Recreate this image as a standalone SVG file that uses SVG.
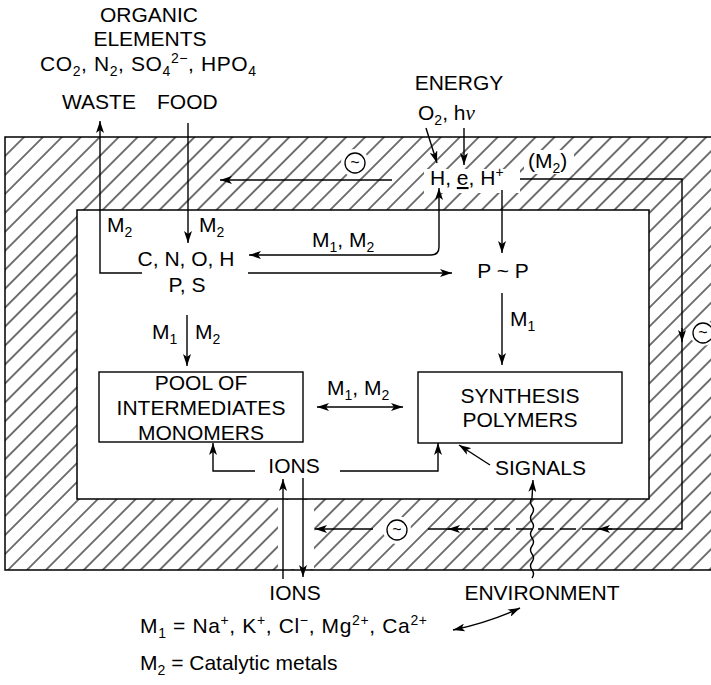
<svg xmlns="http://www.w3.org/2000/svg" width="711" height="685" viewBox="0 0 711 685">
<defs>
<style>
text{font-family:"Liberation Sans",Arial,sans-serif;font-size:21px;fill:#000}
.s{font-size:14px}
.ln{fill:none;stroke:#000;stroke-width:1.4}
.box{fill:#fff;stroke:#000;stroke-width:1.4}
.cir{fill:#fff;stroke:#000;stroke-width:1.3}
.til{font-size:16px;text-anchor:middle}
.mid{text-anchor:middle}
</style>
<pattern id="hatch" patternUnits="userSpaceOnUse" width="13.4" height="13.4" patternTransform="rotate(-45)">
<line x1="-1" y1="6.7" x2="15" y2="6.7" stroke="#000" stroke-width="1.1"/>
</pattern>
<marker id="ah" viewBox="0 0 12 8" refX="12" refY="4" markerWidth="12" markerHeight="8" markerUnits="userSpaceOnUse" orient="auto-start-reverse">
<path d="M0,0 L12,4 L0,8 L3,4 z" fill="#000"/>
</marker>
</defs>
<rect width="711" height="685" fill="#fff"/>

<g id="membrane">
<path d="M5,137 H720 V570 H5 Z M77,210 H649 V499 H77 Z" fill="url(#hatch)" fill-rule="evenodd" stroke="none"/>
<rect x="424" y="169" width="96" height="24" fill="#fff"/>
<rect x="524" y="150" width="50" height="24" fill="#fff"/>
<rect x="278" y="500" width="36" height="69" fill="#fff"/>
<circle cx="355" cy="163" r="14" fill="#fff"/>
<circle cx="397" cy="530" r="14" fill="#fff"/>
<circle cx="703" cy="333" r="13" fill="#fff"/>
<path d="M5,137 H720 V570 H5 Z M77,210 H649 V499 H77 Z" fill="none" stroke="#000" stroke-width="1.5"/>
</g>

<g id="organic">
<text x="149" y="22" class="mid">ORGANIC</text>
<text x="150" y="46" class="mid">ELEMENTS</text>
<text x="40" y="71" textLength="216" lengthAdjust="spacing">CO<tspan class="s" dy="5">2</tspan><tspan dy="-5">, N</tspan><tspan class="s" dy="5">2</tspan><tspan dy="-5">, SO</tspan><tspan class="s" dy="5">4</tspan><tspan class="s" dy="-13">2−</tspan><tspan dy="8">, HPO</tspan><tspan class="s" dy="5">4</tspan></text>
</g>
<g id="waste"><text x="62" y="109">WASTE</text></g>
<g id="food"><text x="157" y="109">FOOD</text></g>
<g id="energy">
<text x="459" y="90" class="mid">ENERGY</text>
<text x="418" y="120">O<tspan class="s" dy="5">2</tspan><tspan dy="-5">, h</tspan><tspan style="font-family:'Liberation Serif',serif;font-style:italic">ν</tspan></text>
</g>
<g id="heh">
<text x="430" y="185">H, <tspan text-decoration="underline">e</tspan>, H<tspan class="s" dy="-8">+</tspan></text>
<text x="528" y="168">(M<tspan class="s" dy="5">2</tspan><tspan dy="-5">)</tspan></text>
</g>
<g id="cnoh">
<text x="186" y="266" class="mid">C, N, O, H</text>
<text x="187" y="292" class="mid">P, S</text>
</g>
<g id="pp"><text x="503" y="278" class="mid">P ~ P</text></g>
<g id="pool">
<rect x="99" y="372" width="204" height="70" class="box"/>
<text x="201" y="390" class="mid">POOL OF</text>
<text x="201" y="415" class="mid">INTERMEDIATES</text>
<text x="201" y="440" class="mid">MONOMERS</text>
</g>
<g id="synthesis">
<rect x="418" y="372" width="204" height="71" class="box"/>
<text x="520" y="403" class="mid">SYNTHESIS</text>
<text x="520" y="427" class="mid">POLYMERS</text>
</g>
<g id="ions-in"><text x="294" y="473" class="mid">IONS</text></g>
<g id="ions-out"><text x="295" y="600" class="mid">IONS</text></g>
<g id="signals"><text x="495" y="475">SIGNALS</text></g>
<g id="environment"><text x="542" y="600" class="mid">ENVIRONMENT</text></g>
<g id="legend">
<text x="140" y="633" textLength="287" lengthAdjust="spacing">M<tspan class="s" dy="5">1</tspan><tspan dy="-5"> = Na</tspan><tspan class="s" dy="-8">+</tspan><tspan dy="8">, K</tspan><tspan class="s" dy="-8">+</tspan><tspan dy="8">, Cl</tspan><tspan class="s" dy="-8">−</tspan><tspan dy="8">, Mg</tspan><tspan class="s" dy="-8">2+</tspan><tspan dy="8">, Ca</tspan><tspan class="s" dy="-8">2+</tspan></text>
<text x="140" y="670">M<tspan class="s" dy="5">2</tspan><tspan dy="-5"> = Catalytic metals</tspan></text>
</g>

<g id="connectors">
<path class="ln" d="M142,273 H100 V121" marker-end="url(#ah)"/>
<path class="ln" d="M188,123 V243" marker-end="url(#ah)"/>
<path class="ln" d="M439,188 V247 Q439,255 431,255 H249" marker-start="url(#ah)" marker-end="url(#ah)"/>
<path class="ln" d="M248,273 H452" marker-end="url(#ah)"/>
<path class="ln" d="M426,128 L437,163" marker-end="url(#ah)"/>
<path class="ln" d="M464,128 V165" marker-end="url(#ah)"/>
<path class="ln" d="M502,190 V253" marker-end="url(#ah)"/>
<path class="ln" d="M502,293 V365" marker-end="url(#ah)"/>
<path class="ln" d="M187,315 V366" marker-end="url(#ah)"/>
<path class="ln" d="M317,407 H403" marker-start="url(#ah)" marker-end="url(#ah)"/>
<path class="ln" d="M255,471 H213 V443" marker-end="url(#ah)"/>
<path class="ln" d="M340,471 H438 V443" marker-end="url(#ah)"/>
<path class="ln" d="M283,579 V479" marker-end="url(#ah)"/>
<path class="ln" d="M303,478 V577" marker-end="url(#ah)"/>
<path class="ln" d="M490,465 L459,445" marker-end="url(#ah)"/>
<path class="ln" d="M532,578 q3,-4 0,-8 t0,-8 t0,-8 t0,-8 t0,-8 t0,-8 t0,-8 t0,-8 t0,-8 t0,-8 L533,480" marker-end="url(#ah)"/>
<path class="ln" d="M453,630 Q490,622 520,608" marker-start="url(#ah)" marker-end="url(#ah)"/>
<path class="ln" d="M392,180 H220" marker-end="url(#ah)"/>
<path class="ln" d="M520,179 H682 V529 H598"/>
<path class="ln" d="M682,328 V342" marker-end="url(#ah)"/>
<path class="ln" d="M612,529 H598" marker-end="url(#ah)"/>
<path class="ln" d="M598,529 H470" stroke-dasharray="16 6"/>
<path class="ln" d="M470,529 H428"/>
<path class="ln" d="M462,529 H448" marker-end="url(#ah)"/>
<path class="ln" d="M373,529 H315" marker-end="url(#ah)"/>
<circle cx="355" cy="163" r="10" class="cir"/>
<text x="355" y="168" class="til">~</text>
<circle cx="397" cy="530" r="10" class="cir"/>
<text x="397" y="535" class="til">~</text>
<circle cx="703" cy="333" r="10" class="cir"/>
<text x="703" y="338" class="til">~</text>
</g>

<g id="labels">
<text x="107" y="232">M<tspan class="s" dy="5">2</tspan></text>
<text x="199" y="232">M<tspan class="s" dy="5">2</tspan></text>
<text x="312" y="247">M<tspan class="s" dy="5">1</tspan><tspan dy="-5">, M</tspan><tspan class="s" dy="5">2</tspan></text>
<text x="510" y="326">M<tspan class="s" dy="5">1</tspan></text>
<text x="152" y="339">M<tspan class="s" dy="5">1</tspan></text>
<text x="195" y="339">M<tspan class="s" dy="5">2</tspan></text>
<text x="327" y="395">M<tspan class="s" dy="5">1</tspan><tspan dy="-5">, M</tspan><tspan class="s" dy="5">2</tspan></text>
</g>
</svg>
